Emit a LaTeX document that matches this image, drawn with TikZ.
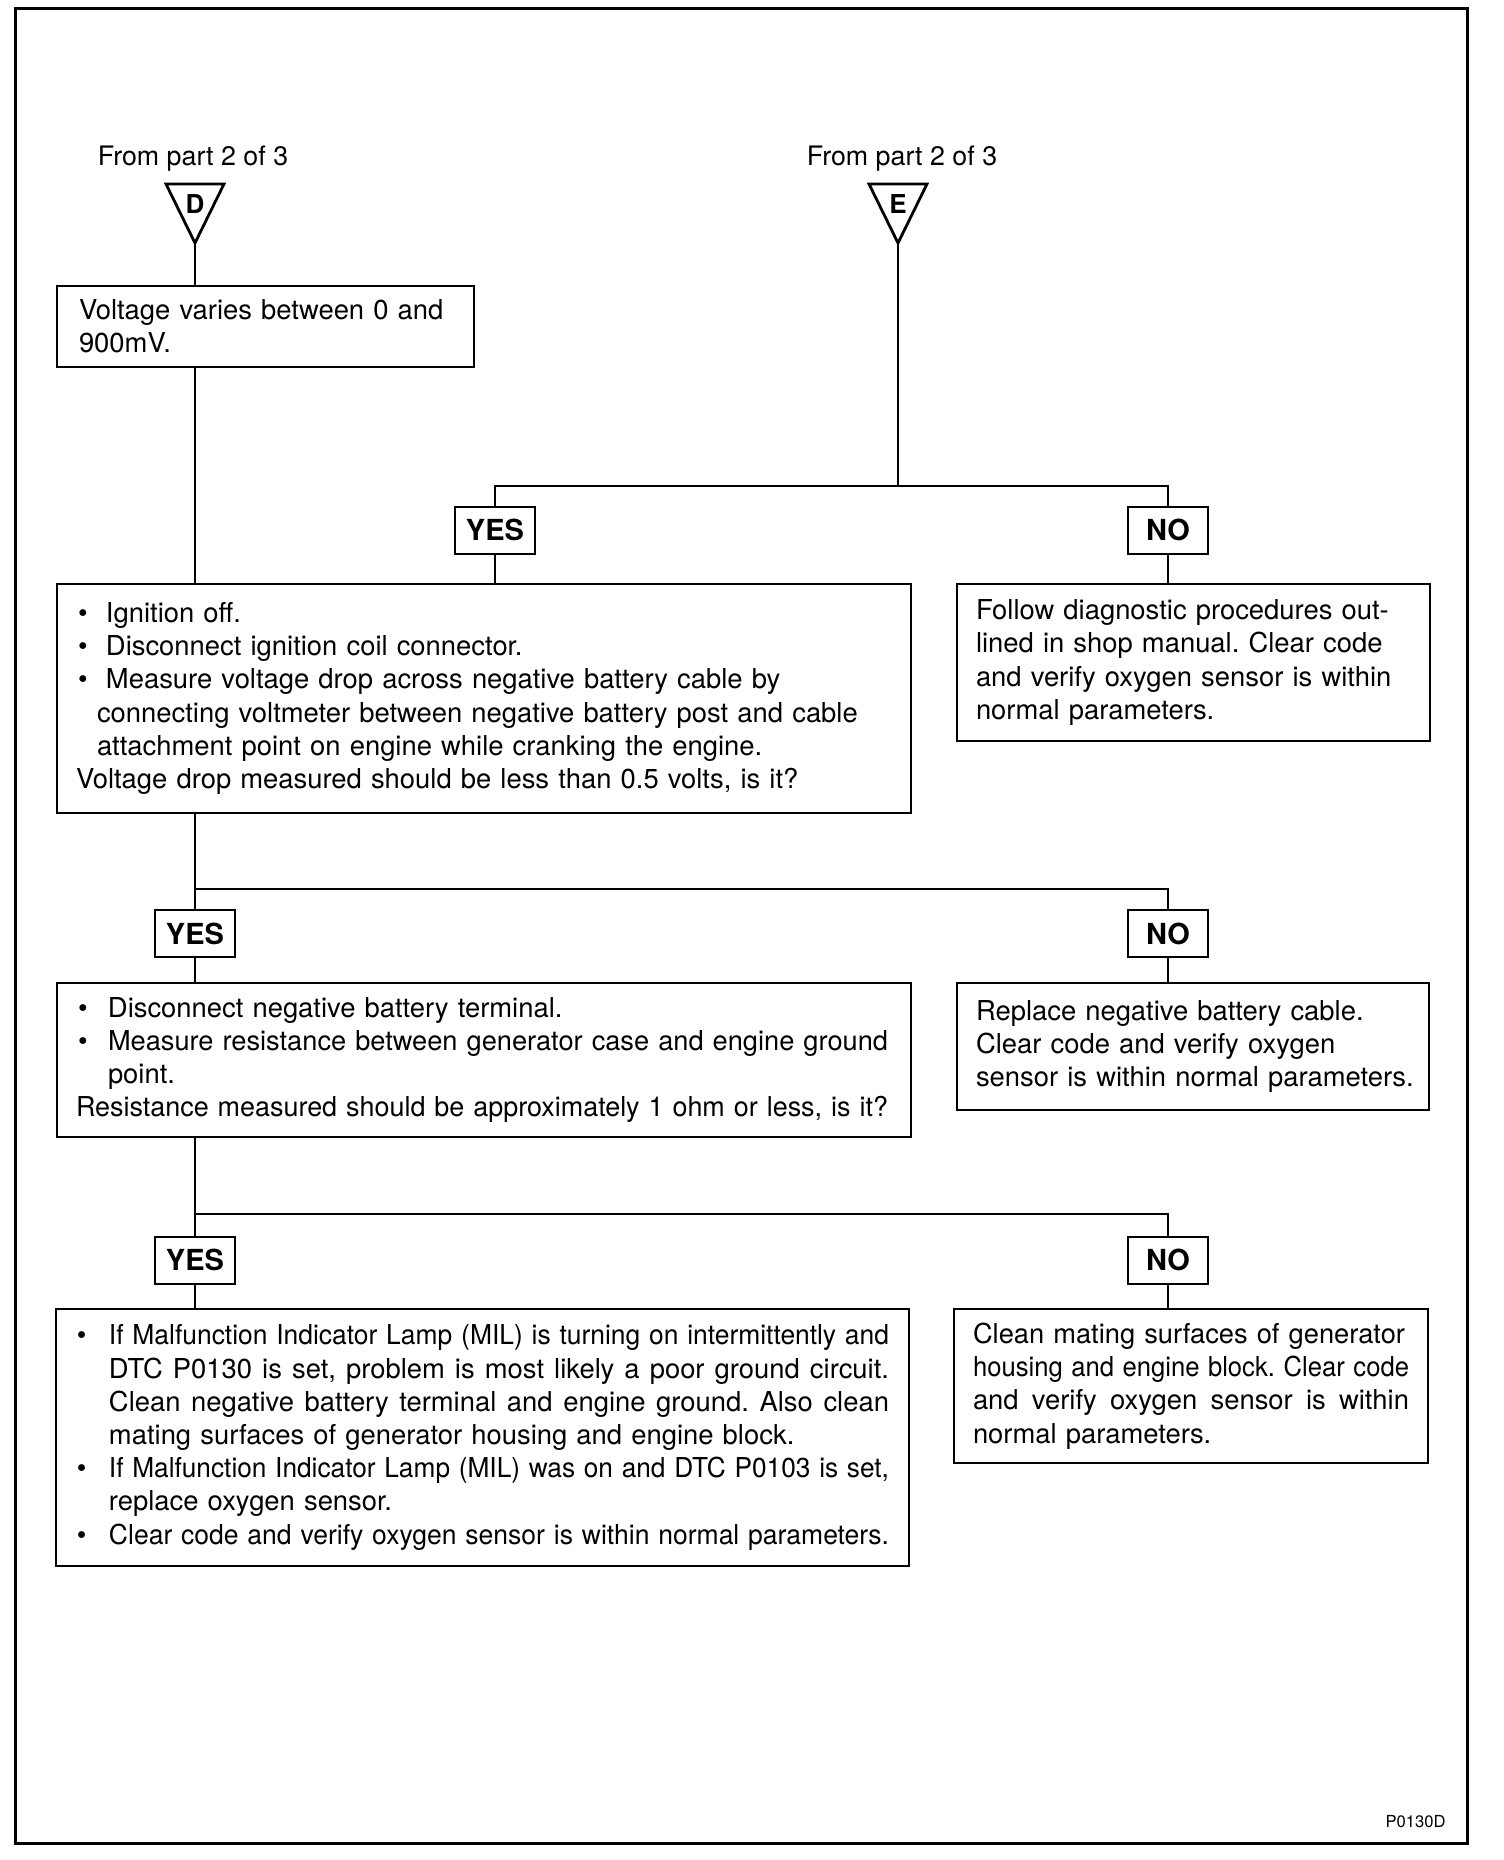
\documentclass[tikz,border=0pt]{standalone}
\usepackage{fontspec}
\setmainfont{TeX Gyre Heros}
\usepackage{graphicx}
\setlength{\parindent}{0pt}
\frenchspacing

% one line stretched or squeezed to a given width
\newsavebox{\linebox}
\newcommand{\fitline}[2]{\leavevmode\sbox{\linebox}{#2}%
  \ifdim\wd\linebox>#1\relax\resizebox{#1}{\ht\linebox}{\usebox{\linebox}}%
  \else\hbox to #1{\spaceskip=\fontdimen2\font plus 1fil\relax #2}\fi}
% bullet in front of a line
\newcommand{\bul}[1][17pt]{\makebox[#1][l]{\hspace{1pt}\textbullet}}

\tikzset{
  box/.style={draw, line width=1pt, anchor=north west, align=left,
    inner xsep=9.5pt, inner ysep=0pt, font=\fontsize{13.7}{16.6}\selectfont},
  yn/.style={draw, line width=1pt, minimum width=40pt, minimum height=23.5pt,
    inner sep=0pt, font=\bfseries\fontsize{14.5}{14.5}\selectfont},
  wire/.style={line width=1.2pt},
  branch/.style={line width=1.4pt},
  tri/.style={line width=1.4pt, line join=miter},
  letter/.style={font=\bfseries\fontsize{13}{13}\selectfont, inner sep=0pt},
  fromtext/.style={font=\fontsize{13.4}{14}\selectfont, inner sep=0pt},
}

\begin{document}
\begin{tikzpicture}[x=0.5pt,y=-0.5pt]
\useasboundingbox (0,0) rectangle (1504,1860);
% outer frame
\draw[line width=1.5pt] (15,8) rectangle (1467,1843);

% entry points from part 2
\node[fromtext] (fromD) at (193,159) {From part 2 of 3};
\node[fromtext] (fromE) at (902,159) {From part 2 of 3};
\coordinate (Dtip) at (195,243);
\coordinate (Etip) at (898,243);
\draw[tri] (166,184) -- (224,184) -- (Dtip) -- cycle;
\draw[tri] (869,184) -- (927,184) -- (Etip) -- cycle;
\node[letter] (D) at (195,204) {D};
\node[letter] (E) at (898,204) {E};

% boxes
\node[box, text width=186.5pt, inner xsep=11pt, minimum height=40.5pt] (b1) at (56,285)
  {Voltage varies between 0 and\\900mV.};
\node[box, text width=408pt, minimum height=114.5pt] (b2) at (56,583)
  {\bul[15pt]Ignition off.\\
   \bul[15pt]Disconnect ignition coil connector.\\
   \bul[15pt]Measure voltage drop across negative battery cable by\\
   \hspace*{10.5pt}connecting voltmeter between negative battery post and cable\\
   \hspace*{10.5pt}attachment point on engine while cranking the engine.\\
   Voltage drop measured should be less than 0.5 volts, is it?};
\node[box, text width=217.5pt, minimum height=78.5pt] (b3) at (956,583)
  {Follow diagnostic procedures out-\\
   \mbox{lined in shop manual. Clear code}\\
   \mbox{and verify oxygen sensor is within}\\
   normal parameters.};
\node[box, text width=408pt, minimum height=77pt] (b4) at (56,982)
  {\bul[16pt]Disconnect negative battery terminal.\\
   \bul[16pt]\fitline{390pt}{Measure resistance between generator case and engine ground}\\
   \hspace*{16pt}point.\\
   \fitline{406pt}{Resistance measured should be approximately 1 ohm or less, is it?}};
\node[box, text width=217pt, minimum height=63.5pt] (b5) at (956,982)
  {Replace negative battery cable.\\
   Clear code and verify oxygen\\
   \mbox{sensor is within normal parameters.}};
\node[box, text width=407.5pt, minimum height=128.5pt] (b6) at (55,1308)
  {\bul\fitline{390pt}{If Malfunction Indicator Lamp (MIL) is turning on intermittently and}\\
   \hspace*{17pt}\fitline{390pt}{DTC P0130 is set, problem is most likely a poor ground circuit.}\\
   \hspace*{17pt}\fitline{390pt}{Clean negative battery terminal and engine ground. Also clean}\\
   \hspace*{17pt}mating surfaces of generator housing and engine block.\\
   \bul\fitline{390pt}{If Malfunction Indicator Lamp (MIL) was on and DTC P0103 is set,}\\
   \hspace*{17pt}replace oxygen sensor.\\
   \bul\fitline{390pt}{Clear code and verify oxygen sensor is within normal parameters.}};
\node[box, text width=218pt, minimum height=77pt] (b7) at (953,1308)
  {\fitline{216pt}{Clean mating surfaces of generator}\\
   \fitline{218pt}{housing and engine block. Clear code}\\
   \fitline{218pt}{and verify oxygen sensor is within}\\
   normal parameters.};

% YES / NO
\node[yn] (yes1) at (495,530) {YES};
\node[yn] (no1) at (1168,530) {NO};
\node[yn] (yes2) at (195,933.5) {YES};
\node[yn] (no2) at (1168,933.5) {NO};
\node[yn] (yes3) at (195,1260) {YES};
\node[yn] (no3) at (1168,1260) {NO};
\coordinate (j1) at (898,486);
\coordinate (j2) at (195,889);
\coordinate (j3) at (195,1214);

% connectors
\draw[wire] (Dtip) -- (Dtip |- b1.north);
\draw[wire] (Dtip |- b1.south) -- (Dtip |- b2.north);
\draw[wire] (Etip) -- (j1);
\draw[branch] (yes1.north) |- (j1) -| (no1.north);
\draw[wire] (yes1.south) -- (yes1.south |- b2.north);
\draw[wire] (no1.south) -- (no1.south |- b3.north);
\draw[wire] (Dtip |- b2.south) -- (yes2.north);
\draw[branch] (j2) -| (no2.north);
\draw[wire] (yes2.south) -- (yes2.south |- b4.north);
\draw[wire] (no2.south) -- (no2.south |- b5.north);
\draw[wire] (Dtip |- b4.south) -- (yes3.north);
\draw[branch] (j3) -| (no3.north);
\draw[wire] (yes3.south) -- (yes3.south |- b6.north);
\draw[wire] (no3.south) -- (no3.south |- b7.north);

\node[font=\fontsize{8.3}{9}\selectfont, anchor=east, inner sep=0pt] (code) at (1446,1822) {P0130D};
\end{tikzpicture}
\end{document}
